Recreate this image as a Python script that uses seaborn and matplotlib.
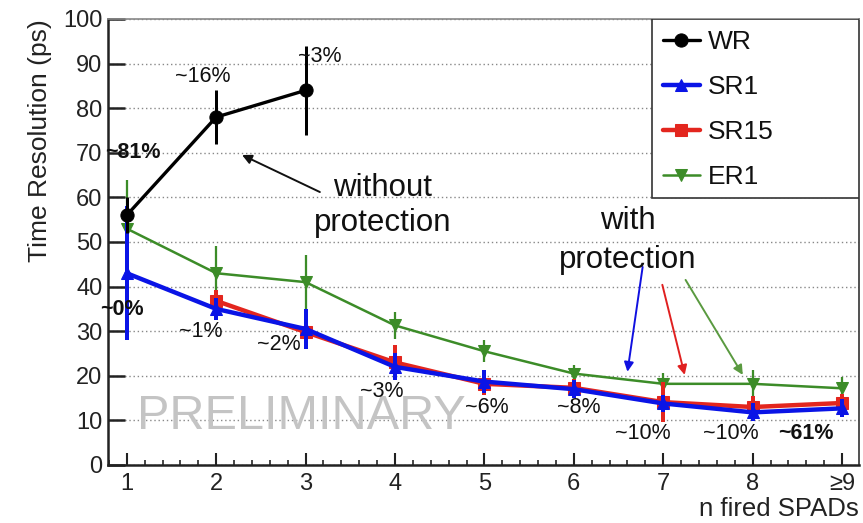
import numpy as np
import pandas as pd
import matplotlib
matplotlib.use("Agg")
import matplotlib.pyplot as plt
import seaborn as sns
from matplotlib.ticker import MultipleLocator
from matplotlib.patches import Rectangle

# ---------------- data ----------------
n_spads = [1, 2, 3, 4, 5, 6, 7, 8, 9]
tick_labels = ["1", "2", "3", "4", "5", "6", "7", "8", "\u22659"]

wr_x = [1, 2, 3]
wr_y = [56, 78, 84]
wr_err = [4, 6, 10]

sr1_x = [1, 2, 3, 4, 5, 6, 7, 8, 9]
sr1_y = [43, 35, 30.5, 22, 18.7, 17, 13.8, 11.8, 12.7]
sr1_err = [15, 2.5, 4.5, 3, 2.5, 2, 2, 2, 2]

sr15_x = [2, 3, 4, 5, 6, 7, 8, 9]
sr15_y = [36.8, 29.8, 23, 18.2, 17.3, 14.1, 13, 13.9]
sr15_err = [2.5, 3.5, 4, 2.5, 2, 4.5, 2.5, 2]

er1_x = [1, 2, 3, 4, 5, 6, 7, 8, 9]
er1_y = [53, 43, 41, 31.3, 25.5, 20.5, 18.2, 18.2, 17.2]
er1_err = [11, 6, 6, 3, 2.5, 2, 2.5, 3, 2.5]

series_names = ["WR", "SR1", "SR15", "ER1"]
pct_labels = ["~81%", "~16%", "~3%", "~0%", "~1%", "~2%", "~3%", "~6%", "~8%",
              "~10%", "~10%", "~61%"]

# ---------------- build table ----------------
frames = []
for name, xs, ys in [("WR", wr_x, wr_y), ("SR1", sr1_x, sr1_y),
                     ("SR15", sr15_x, sr15_y), ("ER1", er1_x, er1_y)]:
    frames.append(pd.DataFrame({"n": xs, "t": ys, "series": name}))
df = pd.concat(frames, ignore_index=True)

colors = {"WR": "#000000", "SR1": "#0a14e6", "SR15": "#e3261e", "ER1": "#3c8c28"}
markers = {"WR": "o", "SR1": "^", "SR15": "s", "ER1": "v"}
lws = {"WR": 2.4, "SR1": 3.2, "SR15": 3.2, "ER1": 1.8}
msz = {"WR": 9.5, "SR1": 8.5, "SR15": 8, "ER1": 8.5}
errs = {"WR": wr_err, "SR1": sr1_err, "SR15": sr15_err, "ER1": er1_err}
zs = {"ER1": 3, "SR15": 4, "SR1": 5, "WR": 6}

sns.set_theme(style="white")
plt.rcParams["font.family"] = ["Liberation Sans", "DejaVu Sans"]

fig = plt.figure(figsize=(8.63, 5.23), dpi=100)
ax = fig.add_axes([0.1251, 0.1109, 0.8703, 0.8528])

for name in ["ER1", "SR15", "SR1", "WR"]:
    sub = df[df["series"] == name]
    ax.errorbar(sub["n"], sub["t"], yerr=errs[name], fmt="none",
                ecolor=colors[name], elinewidth=lws[name] * 0.9, capsize=0,
                zorder=zs[name])
    sns.lineplot(data=sub, x="n", y="t", ax=ax, color=colors[name],
                 marker=markers[name], markersize=msz[name],
                 markeredgecolor=colors[name], linewidth=lws[name],
                 label=name, zorder=zs[name] + 0.5)

# axes styling
ax.set_xlim(0.79, 9.19)
ax.set_ylim(0, 100)
ax.set_xticks(n_spads)
ax.set_xticklabels(tick_labels)
ax.xaxis.set_minor_locator(MultipleLocator(0.2))
ax.set_yticks(np.arange(0, 101, 10))
ax.tick_params(axis="x", which="major", direction="in", length=8.5, width=1.5,
               labelsize=17, pad=6, colors="#222222", bottom=True)
ax.tick_params(axis="x", which="minor", direction="in", length=3.6, width=1.2,
               bottom=True)
ax.tick_params(axis="y", which="major", direction="in", length=12, width=1.8,
               labelsize=17, pad=4, colors="#222222", left=True)
for lab in ax.get_xticklabels() + ax.get_yticklabels():
    lab.set_color("#222222")

ax.yaxis.grid(True, linestyle=(0, (1, 2)), color="#888888", linewidth=1.0)
ax.xaxis.grid(False)
for s in ["left", "bottom"]:
    ax.spines[s].set_color("#222222")
    ax.spines[s].set_linewidth(1.8)
ax.spines["right"].set_color("#333333")
ax.spines["right"].set_linewidth(1.2)
ax.spines["top"].set_color("#888888")
ax.spines["top"].set_linewidth(1.2)

ax.set_xlabel("n fired SPADs", fontsize=18.5, loc="right", labelpad=1,
              color="#222222")
ax.set_ylabel("Time Resolution (ps)", fontsize=19, loc="top", labelpad=8,
              color="#222222")

# legend (box drawn separately to match the wide reference frame)
handles, labels = ax.get_legend_handles_labels()
order = [labels.index(n) for n in series_names]
box = Rectangle((0.724, 0.599), 0.276, 0.401, transform=ax.transAxes,
                facecolor="white", edgecolor="#333333", linewidth=1.2,
                zorder=9)
ax.add_patch(box)
leg = ax.legend([handles[i] for i in order], [labels[i] for i in order],
                loc="upper left", bbox_to_anchor=(0.724, 1.0), borderaxespad=0,
                fontsize=19, frameon=False,
                handlelength=1.4, handletextpad=0.3, labelspacing=0.8,
                borderpad=0.42)
leg.set_zorder(10)
for t in leg.get_texts():
    t.set_color("#111111")

# watermark
ax.text(2.95, 10.9, "PRELIMINARY", fontsize=35, color="#c4c4c4",
        ha="center", va="center", zorder=1)

# percentage labels
pct_pos = [(1.07, 70), (1.85, 87), (3.16, 91.5), (0.95, 34.8), (1.83, 30),
           (2.70, 27), (3.85, 16.4), (5.03, 12.8), (6.06, 12.8), (6.77, 7),
           (7.76, 7), (8.6, 7)]
bold = {0, 3, 11}
for i, (lab, (px, py)) in enumerate(zip(pct_labels, pct_pos)):
    ax.text(px, py, lab, fontsize=15.5, ha="center", va="center",
            fontweight="bold" if i in bold else "normal", color="#111111",
            zorder=8)

# protection texts and arrows
ax.text(3.86, 58.2, "without\nprotection", fontsize=22.5, ha="center",
        va="center", linespacing=1.25, color="#111111", zorder=8)
ax.annotate("", xy=(2.29, 69.5), xytext=(3.16, 61.2),
            arrowprops=dict(arrowstyle="-|>", color="#111111", lw=1.4,
                            mutation_scale=14, shrinkA=0, shrinkB=0))
ax.text(6.6, 50.3, "with\nprotection", fontsize=22.5, ha="center",
        va="center", linespacing=1.4, color="#111111", zorder=8)
for (x0, y0, x1, y1, c) in [(6.77, 44.4, 6.6, 20.9, "#1010e0"),
                            (6.99, 40.4, 7.24, 20.2, "#e02020"),
                            (7.25, 41.5, 7.89, 20.2, "#5a9a40")]:
    ax.annotate("", xy=(x1, y1), xytext=(x0, y0),
                arrowprops=dict(arrowstyle="-|>", color=c, lw=1.4,
                                mutation_scale=14, shrinkA=0, shrinkB=0))

fig.savefig("out.png", dpi=100)
